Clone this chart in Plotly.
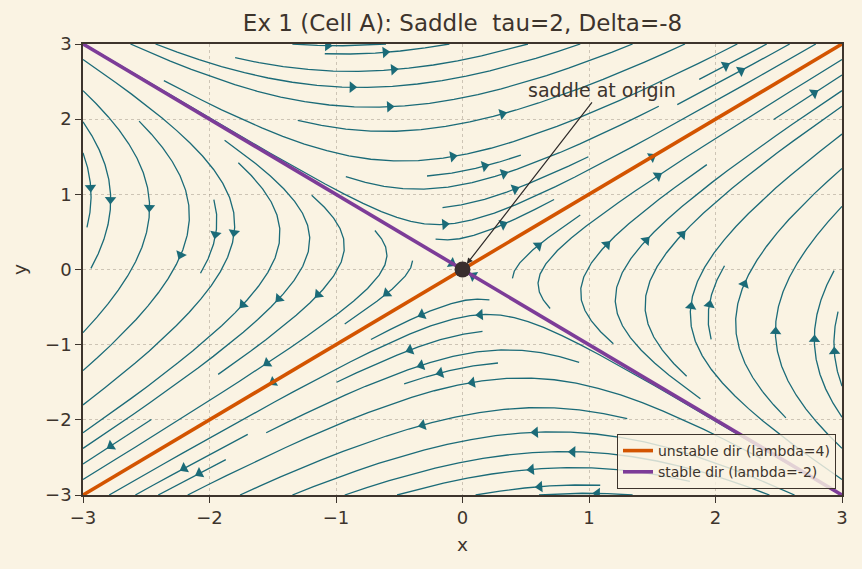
import numpy as np
import plotly.graph_objects as go

# ---------------- data ----------------
A = [[1.0, 3.0], [3.0, 1.0]]          # linear system  x' = A x
tau, Delta = 2, -8
lam_unstable, lam_stable = 4, -2
v_unstable = [1.0, 1.0]
v_stable = [1.0, -1.0]
x_range = [-3.0, 3.0]
y_range = [-3.0, 3.0]
tick_vals = [-3, -2, -1, 0, 1, 2, 3]
tick_text = ["\u22123", "\u22122", "\u22121", "0", "1", "2", "3"]
grid_n = 25
density = 1.0
saddle = [0.0, 0.0]

# ---------------- colours ----------------
BG = "#faf3e3"
INK = "#3d342c"
TEAL = "#1b6b78"
ORANGE = "#d35400"
PURPLE = "#7d3c98"

# ---------------- streamline computation (matplotlib-style) ----------------
class OOB(Exception):
    pass


class Term(Exception):
    pass


class InvIdx(Exception):
    pass


def compute_streamlines(xs, ys, U, V, density, minlength=0.1, maxlength=4.0):
    nx, ny = len(xs), len(ys)
    dx = xs[1] - xs[0]
    dy = ys[1] - ys[0]
    mnx = mny = int(30 * density)
    mask = np.zeros((mny, mnx))
    gx2m = (mnx - 1) / (nx - 1)
    gy2m = (mny - 1) / (ny - 1)
    u = U / dx
    v = V / dy
    speed = np.sqrt((u / (nx - 1)) ** 2 + (v / (ny - 1)) ** 2)
    st = {"traj": [], "cur": None}

    def within(xi, yi):
        return 0 <= xi <= nx - 1 and 0 <= yi <= ny - 1

    def interp(a, xi, yi):
        x = int(xi)
        y = int(yi)
        xn = x if x == nx - 1 else x + 1
        yn = y if y == ny - 1 else y + 1
        xt = xi - x
        yt = yi - y
        a0 = a[y, x] * (1 - xt) + a[y, xn] * xt
        a1 = a[yn, x] * (1 - xt) + a[yn, xn] * xt
        return a0 * (1 - yt) + a1 * yt

    def g2m(xi, yi):
        return int(round(xi * gx2m)), int(round(yi * gy2m))

    def update(xm, ym):
        if st["cur"] != (xm, ym):
            if mask[ym, xm] == 0:
                st["traj"].append((ym, xm))
                mask[ym, xm] = 1
                st["cur"] = (xm, ym)
            else:
                raise InvIdx

    def fwd(xi, yi):
        if not within(xi, yi):
            raise OOB
        s = interp(speed, xi, yi)
        if s == 0:
            raise Term
        return interp(u, xi, yi) / s, interp(v, xi, yi) / s

    def bwd(xi, yi):
        a, b = fwd(xi, yi)
        return -a, -b

    def euler(traj, f):
        xi, yi = traj[-1]
        cx, cy = f(xi, yi)
        if cx == 0:
            dsx = np.inf
        elif cx < 0:
            dsx = xi / -cx
        else:
            dsx = (nx - 1 - xi) / cx
        if cy == 0:
            dsy = np.inf
        elif cy < 0:
            dsy = yi / -cy
        else:
            dsy = (ny - 1 - yi) / cy
        ds = min(dsx, dsy)
        traj.append((xi + cx * ds, yi + cy * ds))
        return ds, traj

    def rk12(x0, y0, f):
        maxerror = 0.003
        maxds = min(1.0 / mnx, 1.0 / mny, 0.1)
        ds = maxds
        stotal = 0.0
        xi, yi = x0, y0
        traj = []
        while True:
            try:
                if within(xi, yi):
                    traj.append((xi, yi))
                else:
                    raise OOB
                k1x, k1y = f(xi, yi)
                k2x, k2y = f(xi + ds * k1x, yi + ds * k1y)
            except OOB:
                if traj:
                    d, traj = euler(traj, f)
                    stotal += d
                break
            except Term:
                break
            dx1 = ds * k1x
            dy1 = ds * k1y
            dx2 = ds * 0.5 * (k1x + k2x)
            dy2 = ds * 0.5 * (k1y + k2y)
            error = np.hypot((dx2 - dx1) / (nx - 1), (dy2 - dy1) / (ny - 1))
            if error < maxerror:
                xi += dx2
                yi += dy2
                try:
                    if not within(xi, yi):
                        raise InvIdx
                    update(*g2m(xi, yi))
                except InvIdx:
                    break
                if stotal + ds > maxlength:
                    break
                stotal += ds
            if error == 0:
                ds = maxds
            else:
                ds = min(maxds, 0.85 * ds * (maxerror / error) ** 0.5)
        return stotal, traj

    def integrate(x0, y0):
        st["traj"] = []
        try:
            update(*g2m(x0, y0))
        except InvIdx:
            return None
        s, xyt = rk12(x0, y0, bwd)
        stotal = s
        xy = xyt[::-1]
        st["cur"] = g2m(x0, y0)
        s, xyt = rk12(x0, y0, fwd)
        stotal += s
        xy += xyt[1:]
        if stotal > minlength:
            return np.array(xy)
        for t in st["traj"]:
            mask[t] = 0
        return None

    def gen_start(shape):
        nyy, nxx = shape
        xfirst, yfirst = 0, 1
        xlast, ylast = nxx - 1, nyy - 1
        x, y = 0, 0
        direction = "right"
        for _ in range(nxx * nyy):
            yield x, y
            if direction == "right":
                x += 1
                if x >= xlast:
                    xlast -= 1
                    direction = "up"
            elif direction == "up":
                y += 1
                if y >= ylast:
                    ylast -= 1
                    direction = "left"
            elif direction == "left":
                x -= 1
                if x <= xfirst:
                    xfirst += 1
                    direction = "down"
            elif direction == "down":
                y -= 1
                if y <= yfirst:
                    yfirst += 1
                    direction = "right"

    trajs = []
    for xm, ym in gen_start(mask.shape):
        if mask[ym, xm] == 0:
            t = integrate(xm / gx2m, ym / gy2m)
            if t is not None:
                trajs.append(t)

    lines = []
    arrows = []
    for t in trajs:
        tx = t[:, 0] * dx + xs[0]
        ty = t[:, 1] * dy + ys[0]
        lines.append((tx, ty))
        s = np.cumsum(np.hypot(np.diff(tx), np.diff(ty)))
        n = int(np.searchsorted(s, s[-1] / 2.0))
        tail = (tx[n], ty[n])
        head = (np.mean(tx[n:n + 2]), np.mean(ty[n:n + 2]))
        arrows.append((tail, head))
    return lines, arrows


xs = np.linspace(x_range[0], x_range[1], grid_n)
ys = np.linspace(y_range[0], y_range[1], grid_n)
XX, YY = np.meshgrid(xs, ys)
Am = np.array(A)
U = Am[0, 0] * XX + Am[0, 1] * YY
V = Am[1, 0] * XX + Am[1, 1] * YY

lines, arrows = compute_streamlines(xs, ys, U, V, density)

# ---------------- figure ----------------
W, H = 862, 569
ML, MR, MT, MB = 83, 20, 44, 74
sx = (W - ML - MR) / (x_range[1] - x_range[0])
sy = (H - MT - MB) / (y_range[1] - y_range[0])

lx, ly = [], []
for tx, ty in lines:
    lx.extend(tx.tolist() + [None])
    ly.extend(ty.tolist() + [None])

ax_, ay_, ang = [], [], []
for (t0, t1), (h0, h1) in arrows:
    px = (h0 - t0) * sx
    py = (h1 - t1) * sy
    norm = np.hypot(px, py)
    if norm == 0:
        continue
    ang.append(float(np.degrees(np.arctan2(px, py))))
    back = 2.5
    ax_.append(h0 - back * px / norm / sx)
    ay_.append(h1 - back * py / norm / sy)

fig = go.Figure()
fig.add_trace(go.Scatter(x=lx, y=ly, mode="lines",
                         line=dict(color=TEAL, width=1.3),
                         hoverinfo="skip", showlegend=False))
fig.add_trace(go.Scatter(x=ax_, y=ay_, mode="markers",
                         marker=dict(symbol="triangle-up", size=10, color=TEAL,
                                     angle=ang, line=dict(width=0)),
                         hoverinfo="skip", showlegend=False))

tline = np.array(x_range)
fig.add_trace(go.Scatter(x=tline * v_unstable[0], y=tline * v_unstable[1], mode="lines",
                         line=dict(color=ORANGE, width=3.6),
                         name=f"unstable dir (lambda={lam_unstable})"))
fig.add_trace(go.Scatter(x=tline * v_stable[0], y=tline * v_stable[1], mode="lines",
                         line=dict(color=PURPLE, width=3.6),
                         name=f"stable dir (lambda={lam_stable})"))
fig.add_trace(go.Scatter(x=[saddle[0]], y=[saddle[1]], mode="markers",
                         marker=dict(size=16, color="#3a2e2e"),
                         showlegend=False, hoverinfo="skip"))

fig.add_annotation(x=saddle[0], y=saddle[1], ax=1.1, ay=2.39, xref="x", yref="y",
                   axref="x", ayref="y", text="saddle at origin", showarrow=True,
                   arrowhead=2, arrowsize=1, arrowwidth=1.2, arrowcolor="#2e2a28",
                   standoff=7, font=dict(size=19, color=INK))

axis_common = dict(
    showline=True, mirror=True, linecolor=INK, linewidth=1.5,
    ticks="outside", ticklen=6, tickwidth=1.3, tickcolor=INK,
    showgrid=True, gridcolor="rgba(150,140,125,0.45)", griddash="dot", gridwidth=1,
    zeroline=False, tickfont=dict(size=18, color=INK),
    tickvals=tick_vals, ticktext=tick_text,
)
fig.update_xaxes(range=x_range, title=dict(text="x", font=dict(size=18.5, color=INK), standoff=11),
                 **axis_common)
fig.update_yaxes(range=y_range, title=dict(text="y", font=dict(size=18.5, color=INK), standoff=14),
                 **axis_common)

fig.update_layout(
    width=W, height=H,
    margin=dict(l=ML, r=MR, t=MT, b=MB),
    paper_bgcolor=BG, plot_bgcolor=BG,
    font=dict(family="DejaVu Sans", color=INK),
    title=dict(text="Ex 1 (Cell A): Saddle \u00a0tau=2, Delta=-8", x=0.5, xref="paper",
               y=1 - 23 / H, yref="container", xanchor="center", yanchor="middle",
               font=dict(size=23, color=INK)),
    legend=dict(x=(836 - ML) / (W - ML - MR), y=(495 - 489) / (H - MT - MB),
                xanchor="right", yanchor="bottom",
                bgcolor="rgba(250,243,227,0.82)", bordercolor=INK, borderwidth=1,
                font=dict(size=14, color=INK), tracegroupgap=0, itemwidth=30),
    showlegend=True,
)

fig.write_html("out.html")
